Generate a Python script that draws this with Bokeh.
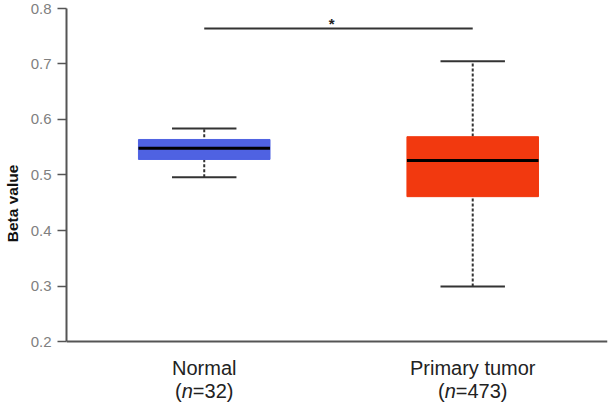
import numpy as np
from bokeh.plotting import figure
from bokeh.models import Range1d, FixedTicker, Label, Span
from bokeh.embed import file_html
from bokeh.resources import INLINE

# ---- data ----
groups = ["Normal", "Primary tumor"]
counts = [32, 473]
lower_whisker = [0.496, 0.299]
q1 = [0.528, 0.461]
median = [0.548, 0.526]
q3 = [0.564, 0.569]
upper_whisker = [0.584, 0.705]
colors = ["#4F62E2", "#F2390F"]
y_ticks = [0.2, 0.3, 0.4, 0.5, 0.6, 0.7, 0.8]
y_min, y_max = 0.2, 0.8
sig_pair = (0, 1)
sig_y = 0.764
sig_label = "*"

xs = np.arange(len(groups)) + 0.5
box_w = 0.49
cap_w = 0.24

p = figure(width=610, height=406, output_backend="svg", toolbar_location=None,
           x_range=Range1d(-0.013, 2.002), y_range=Range1d(0.0829, 0.8144),
           min_border_left=65, min_border_right=3, min_border_top=0, min_border_bottom=0)
p.outline_line_color = None
p.xgrid.visible = False
p.ygrid.visible = False
p.xaxis.visible = False
p.background_fill_color = "white"
p.border_fill_color = "white"

FONT = "Liberation Sans"

# y axis
ya = p.yaxis[0]
ya.bounds = (y_min, y_max)
ya.ticker = FixedTicker(ticks=y_ticks)
ya.axis_label = "Beta value"
ya.axis_label_text_font = FONT
ya.axis_label_text_font_style = "bold"
ya.axis_label_text_font_size = "15.5px"
ya.axis_label_text_color = "#111111"
ya.axis_label_standoff = 7
ya.major_label_text_font = FONT
ya.major_label_text_font_size = "15px"
ya.major_label_text_color = "#808080"
ya.major_label_standoff = 6
ya.major_tick_out = 9
ya.major_tick_in = 0
ya.minor_tick_out = 0
ya.minor_tick_in = 0
ya.axis_line_color = "#555555"
ya.axis_line_width = 2
ya.major_tick_line_color = "#555555"
ya.major_tick_line_width = 1.5

# x axis line at the bottom of the value range
p.add_layout(Span(location=y_min, dimension="width", line_color="#555555", line_width=2))

# whiskers (dashed)
p.segment(x0=xs, y0=lower_whisker, x1=xs, y1=upper_whisker,
          line_color="#333333", line_width=2, line_dash="3 2")
# caps
p.segment(x0=xs - cap_w / 2, y0=upper_whisker, x1=xs + cap_w / 2, y1=upper_whisker,
          line_color="#333333", line_width=2)
p.segment(x0=xs - cap_w / 2, y0=lower_whisker, x1=xs + cap_w / 2, y1=lower_whisker,
          line_color="#333333", line_width=2)
# boxes
p.vbar(x=xs, width=box_w, bottom=q1, top=q3, fill_color=colors, line_color=colors, line_width=1)
# medians
p.segment(x0=xs - box_w / 2, y0=median, x1=xs + box_w / 2, y1=median,
          line_color="#000000", line_width=3)

# significance bar
p.segment(x0=[xs[sig_pair[0]]], y0=[sig_y], x1=[xs[sig_pair[1]]], y1=[sig_y],
          line_color="#333333", line_width=2)
p.add_layout(Label(x=(xs[sig_pair[0]] + xs[sig_pair[1]]) / 2 - 0.025, y=sig_y, y_offset=5,
                   text=sig_label, text_font=FONT, text_font_size="15px",
                   text_font_style="bold", text_color="#222222",
                   text_align="center", text_baseline="alphabetic"))

# category labels with italic n
fs = 20.0
def w(s):
    widths = {"(": 0.333, ")": 0.333, "n": 0.556, "=": 0.584}
    return sum(widths.get(c, 0.556) for c in s) * fs

for x, g, n in zip(xs, groups, counts):
    p.add_layout(Label(x=x, y=y_min, y_offset=-26, text=g, text_font=FONT,
                       text_font_size="20px", text_color="#222222",
                       text_align="center", text_baseline="alphabetic"))
    rest = "=%d)" % n
    total = w("(") + w("n") + w(rest)
    start = -total / 2
    pieces = [("(", "normal", start),
              ("n", "italic", start + w("(")),
              (rest, "normal", start + w("(") + w("n"))]
    for txt, style, off in pieces:
        p.add_layout(Label(x=x, y=y_min, x_offset=off, y_offset=-49, text=txt,
                           text_font=FONT, text_font_size="20px", text_font_style=style,
                           text_color="#222222", text_align="left",
                           text_baseline="alphabetic"))

open("out.html", "w").write(file_html(p, INLINE))
